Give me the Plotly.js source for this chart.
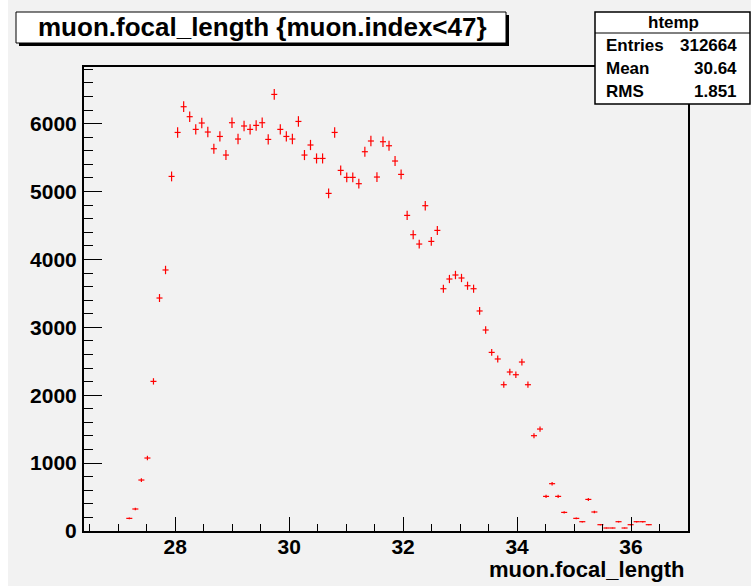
<!DOCTYPE html>
<html>
<head>
<meta charset="utf-8">
<script src="https://cdn.plot.ly/plotly-3.0.1.min.js"></script>
<style>
html,body{margin:0;padding:0;background:#ffffff;}
#chart{width:751px;height:586px;}
</style>
</head>
<body>
<div id="chart"></div>
<script>
// Bin centres (muon.focal_length) of the non-empty bins
const binCenters = [
  27.195, 27.301, 27.407, 27.513, 27.619, 27.725, 27.831, 27.937, 28.043, 28.149,
  28.255, 28.361, 28.467, 28.573, 28.679, 28.785, 28.891, 28.997, 29.103, 29.209,
  29.315, 29.421, 29.527, 29.633, 29.739, 29.845, 29.951, 30.057, 30.163, 30.269,
  30.375, 30.481, 30.587, 30.693, 30.799, 30.905, 31.011, 31.117, 31.223, 31.329,
  31.435, 31.541, 31.647, 31.753, 31.859, 31.965, 32.071, 32.177, 32.283, 32.389,
  32.495, 32.601, 32.707, 32.813, 32.919, 33.025, 33.131, 33.237, 33.343, 33.449,
  33.555, 33.661, 33.767, 33.873, 33.979, 34.085, 34.191, 34.297, 34.403, 34.509,
  34.615, 34.721, 34.827, 35.039, 35.145, 35.251, 35.357, 35.463, 35.569, 35.675,
  35.781, 35.887, 35.993, 36.099, 36.205, 36.311
];
// Entries per bin
const counts = [
  186, 324, 751, 1075, 2204, 3432, 3845, 5223, 5871, 6250,
  6103, 5916, 6010, 5877, 5631, 5812, 5538, 6014, 5774, 5966,
  5916, 5975, 6014, 5768, 6431, 5916, 5812, 5774, 6033, 5538,
  5686, 5488, 5488, 4973, 5871, 5312, 5209, 5209, 5116, 5587,
  5745, 5214, 5734, 5675, 5450, 5253, 4649, 4365, 4227, 4792,
  4266, 4428, 3569, 3712, 3771, 3727, 3613, 3569, 3241, 2961,
  2631, 2534, 2155, 2342, 2302, 2489, 2155, 1404, 1502, 510,
  697, 510, 274, 186, 137, 465, 280, 93, 44, 44,
  137, 44, 93, 137, 137, 93
];
const binWidth = 0.106;
const xRange = [26.40, 37.00];
const yRange = [0, 6835];
const titleText = 'muon.focal_length {muon.index<47}';
const xTitle = 'muon.focal_length';
const statsName = 'htemp';
const statsLabels = ['Entries', 'Mean', 'RMS'];
const statsValues = ['312664', '30.64', '1.851'];

const FONT = 'Liberation Sans, Arial, Helvetica, sans-serif';
const L = 84, R = 688, T = 67, B = 531;
const fx = p => (p - L) / (R - L);
const fy = p => (B - p) / (B - T);

const trace = {
  type: 'scatter',
  mode: 'markers',
  x: binCenters,
  y: counts,
  marker: {size: 0, color: '#ff0000', opacity: 0},
  error_x: {type: 'constant', value: binWidth / 2, color: '#ff0000', thickness: 1.2, width: 0},
  error_y: {type: 'sqrt', color: '#ff0000', thickness: 1.2, width: 0},
  hoverinfo: 'x+y',
  showlegend: false
};

const shapes = [
  // white strip on the left edge
  {type: 'rect', xref: 'paper', yref: 'paper', x0: fx(0), x1: fx(8), y0: fy(586), y1: fy(0),
   fillcolor: '#ffffff', line: {width: 0}, layer: 'above'},
  // title shadow and box
  {type: 'rect', xref: 'paper', yref: 'paper', x0: fx(19), x1: fx(509), y0: fy(46), y1: fy(15),
   fillcolor: '#000000', line: {width: 0}, layer: 'above'},
  {type: 'rect', xref: 'paper', yref: 'paper', x0: fx(16), x1: fx(506), y0: fy(43), y1: fy(12),
   fillcolor: '#ffffff', line: {color: '#000000', width: 1}, layer: 'above'},
  // stats box
  {type: 'rect', xref: 'paper', yref: 'paper', x0: fx(595), x1: fx(750), y0: fy(104), y1: fy(12),
   fillcolor: '#ffffff', line: {color: '#000000', width: 1.5}, layer: 'above'},
  {type: 'line', xref: 'paper', yref: 'paper', x0: fx(595), x1: fx(750), y0: fy(33), y1: fy(33),
   line: {color: '#000000', width: 1}, layer: 'above'}
];

const annotations = [
  {text: titleText, xref: 'paper', yref: 'paper', x: fx(262), y: fy(27.5),
   xanchor: 'center', yanchor: 'middle', showarrow: false,
   font: {family: FONT, size: 26, color: '#000000', weight: 'bold'}},
  {text: xTitle, xref: 'paper', yref: 'paper', x: fx(687), y: fy(569),
   xanchor: 'right', yanchor: 'middle', showarrow: false,
   font: {family: FONT, size: 22, color: '#000000', weight: 'bold'}},
  {text: statsName, xref: 'paper', yref: 'paper', x: fx(673), y: fy(22.5),
   xanchor: 'center', yanchor: 'middle', showarrow: false,
   font: {family: FONT, size: 17, color: '#000000', weight: 'bold'}}
];
const rowY = [45, 68.5, 91.5];
statsLabels.forEach((lab, i) => {
  annotations.push({text: lab, xref: 'paper', yref: 'paper', x: fx(604), y: fy(rowY[i]),
    xanchor: 'left', yanchor: 'middle', showarrow: false,
    font: {family: FONT, size: 17, color: '#000000', weight: 'bold'}});
  annotations.push({text: statsValues[i], xref: 'paper', yref: 'paper', x: fx(739), y: fy(rowY[i]),
    xanchor: 'right', yanchor: 'middle', showarrow: false,
    font: {family: FONT, size: 17, color: '#000000', weight: 'bold'}});
});

const layout = {
  width: 751, height: 586,
  margin: {l: L, r: 751 - R, t: T, b: 586 - B, pad: 0},
  paper_bgcolor: '#f2f2f2',
  plot_bgcolor: '#f2f2f2',
  showlegend: false,
  xaxis: {
    range: xRange, autorange: false,
    tick0: 0, dtick: 2, ticks: 'inside', ticklen: 14, tickwidth: 1, tickcolor: '#000000',
    minor: {dtick: 0.5, tick0: 0, ticks: 'inside', ticklen: 7, tickwidth: 1, tickcolor: '#000000'},
    showgrid: false, zeroline: false,
    showline: true, linecolor: '#000000', linewidth: 2, mirror: true,
    ticklabelstandoff: -4,
    tickfont: {family: FONT, size: 21, color: '#000000', weight: 'bold'}
  },
  yaxis: {
    range: yRange, autorange: false,
    tick0: 0, dtick: 1000, ticks: 'inside', ticklen: 18, tickwidth: 1, tickcolor: '#000000',
    minor: {dtick: 200, tick0: 0, ticks: 'inside', ticklen: 9, tickwidth: 1, tickcolor: '#000000'},
    showgrid: false, zeroline: false,
    showline: true, linecolor: '#000000', linewidth: 2, mirror: true,
    ticklabelstandoff: 1,
    tickfont: {family: FONT, size: 21, color: '#000000', weight: 'bold'}
  },
  shapes: shapes,
  annotations: annotations
};

Plotly.newPlot('chart', [trace], layout, {staticPlot: true, displayModeBar: false});
</script>
</body>
</html>
